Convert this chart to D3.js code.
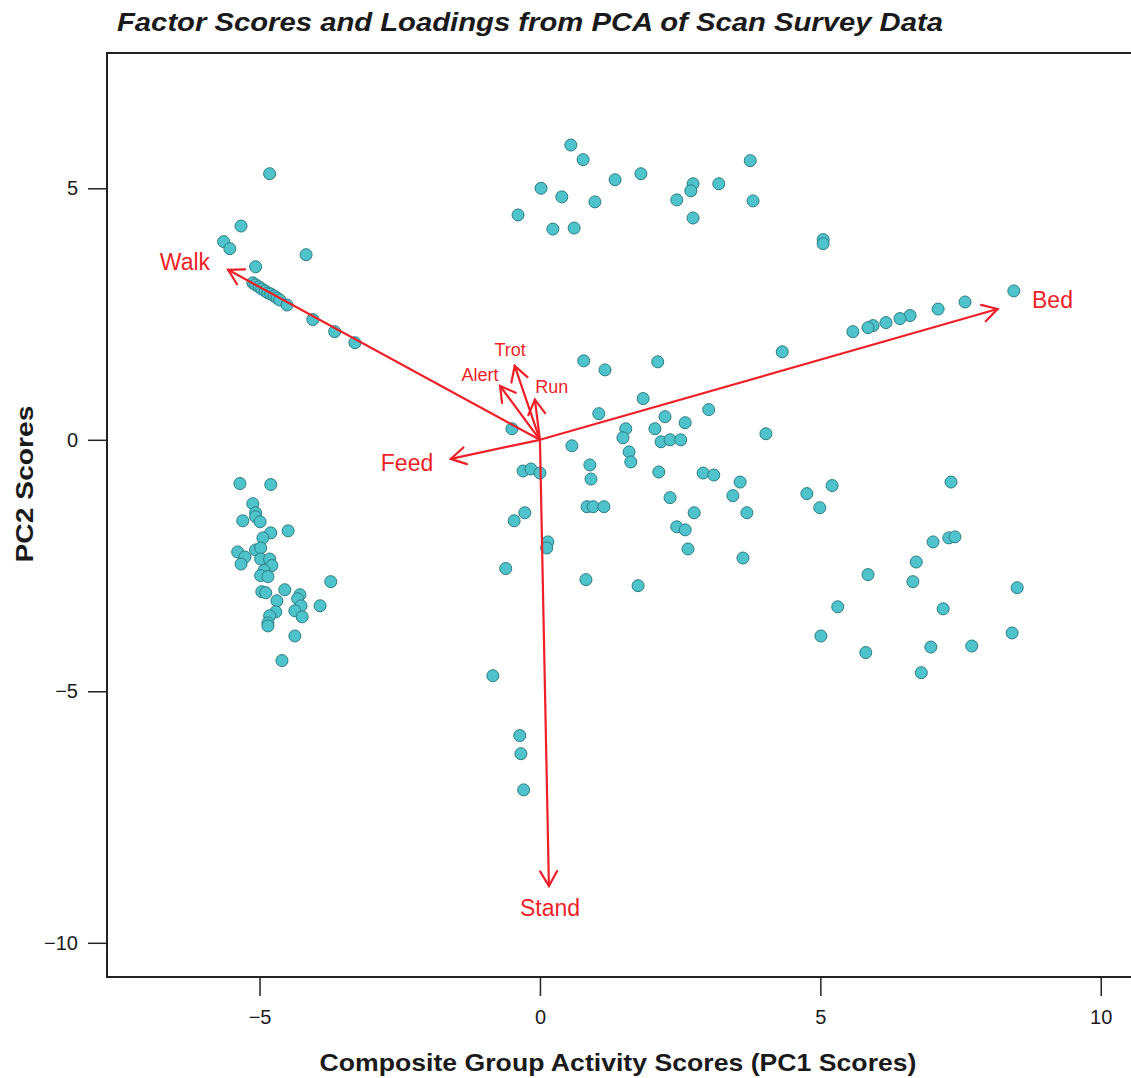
<!DOCTYPE html>
<html>
<head>
<meta charset="utf-8">
<script src="https://cdn.jsdelivr.net/npm/d3@7"></script>
<style>
  html, body { margin: 0; padding: 0; background: #ffffff; }
  svg { display: block; font-family: "Liberation Sans", Arial, Helvetica, sans-serif; }
</style>
</head>
<body>
<svg id="chart" width="1131" height="1078"></svg>
<script>
// Factor scores (PC1, PC2) for each scan survey group
const pc1Scores = [
  // walking-dominated groups
  -4.82, -5.33, -5.64, -5.53, -4.17, -5.07, -5.12, -5.07, -5.01, -4.96,
  -4.90, -4.85, -4.80, -4.74, -4.69, -4.64, -4.51, -4.05, -3.66, -3.30,
  // feeding / standing mix, left
  -5.35, -4.80, -5.12, -5.07, -5.07, -4.99, -5.30, -4.80, -4.49, -4.94,
  -5.39, -5.26, -5.33, -5.07, -4.98, -4.98, -4.82, -4.78, -4.92, -4.98,
  -4.85, -4.96, -4.89, -4.55, -4.69, -4.71, -4.82, -4.85, -4.85, -4.28,
  -4.32, -4.26, -4.37, -4.24, -3.92, -3.73, -4.37, -4.60,
  // upper middle
  0.55, 0.77, 0.02, 0.39, 1.34, 1.80, 0.98, -0.39, 0.23, 0.61,
  2.44, 2.73, 2.69, 3.19, 3.75, 3.80, 2.73,
  // bedded groups
  5.05, 5.05, 8.45, 7.58, 7.10, 6.60, 6.42, 6.17, 5.94, 5.85, 5.58, 4.32,
  // centre
  0.78, 1.16, 2.10, 1.84, 3.01, 1.05, -0.50, 1.53, 1.48, 2.05,
  2.23, 2.59, 2.16, 2.32, 2.51, 4.03, 0.57, 1.59, 1.62, 0.89,
  0.91, -0.30, -0.16, 0.00, 2.12, 2.91, 3.10, 3.57, 3.44, 4.76,
  5.21, 4.99, 2.32, 3.69, 2.75, 0.84, 0.95, 1.14, -0.27, -0.46,
  2.44, 2.59, 0.14, 0.12, 2.64, 3.62, -0.61, 0.82, 1.75,
  // lower right
  7.33, 7.01, 7.29, 7.40, 6.71, 5.85, 6.65, 8.51, 5.31, 7.19,
  5.01, 8.42, 5.81, 6.97, 7.70, 6.80,
  // standing groups
  -0.84, -0.36, -0.34, -0.29
];

const pc2Scores = [
  5.29, 4.25, 3.94, 3.80, 3.68, 3.44, 3.12, 3.08, 3.04, 3.00,
  2.96, 2.92, 2.90, 2.86, 2.82, 2.78, 2.68, 2.39, 2.15, 1.93,
  -0.87, -0.89, -1.27, -1.45, -1.53, -1.63, -1.61, -1.85, -1.81, -1.95,
  -2.23, -2.33, -2.47, -2.19, -2.15, -2.37, -2.37, -2.50, -2.60, -2.70,
  -2.72, -3.02, -3.04, -2.98, -3.20, -3.42, -3.50, -3.64, -3.70, -3.08,
  -3.16, -3.30, -3.40, -3.52, -3.30, -2.82, -3.90, -4.39,
  5.86, 5.57, 5.00, 4.83, 5.17, 5.29, 4.73, 4.47, 4.19, 4.21,
  4.77, 5.09, 4.95, 5.09, 5.55, 4.75, 4.41,
  3.98, 3.90, 2.96, 2.74, 2.60, 2.47, 2.41, 2.33, 2.27, 2.23, 2.15, 1.75,
  1.57, 1.39, 1.55, 0.82, 0.60, 0.52, 0.22, 0.22, 0.04, 0.22,
  0.46, 0.34, -0.04, 0.00, 0.00, 0.12, -0.12, -0.24, -0.44, -0.50,
  -0.78, -0.62, -0.58, -0.66, -0.64, -0.66, -0.70, -0.84, -1.11, -1.07,
  -0.91, -1.35, -1.15, -1.45, -1.45, -1.33, -1.33, -1.33, -1.45, -1.61,
  -1.73, -1.79, -2.03, -2.15, -2.17, -2.35, -2.56, -2.78, -2.90,
  -0.84, -2.03, -1.95, -1.93, -2.43, -2.68, -2.82, -2.94, -3.32, -3.36,
  -3.90, -3.84, -4.23, -4.12, -4.10, -4.63,
  -4.69, -5.88, -6.24, -6.96
];

// Activity loadings (scaled for display) and where each name sits
const activities = ["Walk", "Bed", "Feed", "Stand", "Trot", "Alert", "Run"];
const loadPC1 = [-5.56, 8.16, -1.59, 0.16, -0.45, -0.71, -0.09];
const loadPC2 = [3.38, 2.60, -0.38, -8.87, 1.47, 1.07, 0.80];
const labelPC1 = [-6.33, 9.14, -2.37, 0.18, -0.53, -1.07, 0.21];
const labelPC2 = [3.54, 2.78, -0.46, -9.30, 1.79, 1.29, 1.05];
const minorActivities = ["Trot", "Alert", "Run"];

const xTicks = [-5, 0, 5, 10];
const yTicks = [-10, -5, 0, 5];

const titleText = "Factor Scores and Loadings from PCA of Scan Survey Data";
const xTitle = "Composite Group Activity Scores (PC1 Scores)";
const yTitle = "PC2 Scores";

const svg = d3.select("#chart");
const plot = { left: 107, top: 53, right: 1140, bottom: 977 };

const x = d3.scaleLinear().domain([-7.72, 10.7]).range([plot.left, plot.right]);
const y = d3.scaleLinear().domain([-10.68, 7.69]).range([plot.bottom, plot.top]);

const axisColor = "#222222";
const red = "#ef1f28";

// Title
svg.append("text")
  .attr("x", 117).attr("y", 31)
  .attr("font-size", 25).attr("font-weight", "bold").attr("font-style", "italic")
  .attr("textLength", 826).attr("lengthAdjust", "spacingAndGlyphs")
  .attr("fill", "#1a1a1a")
  .text(titleText);

// Axes
const xAxis = d3.axisBottom(x).tickValues(xTicks).tickSize(19).tickPadding(14)
  .tickFormat(d => d < 0 ? "\u2212" + Math.abs(d) : d);
const yAxis = d3.axisLeft(y).tickValues(yTicks).tickSize(19).tickPadding(10)
  .tickFormat(d => d < 0 ? "\u2212" + Math.abs(d) : d);

const gx = svg.append("g").attr("transform", `translate(0,${plot.bottom})`).call(xAxis);
const gy = svg.append("g").attr("transform", `translate(${plot.left},0)`).call(yAxis);
[gx, gy].forEach(g => {
  g.select(".domain").remove();
  g.selectAll(".tick line").attr("stroke", axisColor).attr("stroke-width", 1.5);
  g.selectAll(".tick text").attr("fill", "#1a1a1a").attr("font-size", 20)
    .attr("font-family", "Liberation Sans, Arial, sans-serif");
});

// Plot frame
svg.append("rect")
  .attr("x", plot.left).attr("y", plot.top)
  .attr("width", plot.right - plot.left).attr("height", plot.bottom - plot.top)
  .attr("fill", "none").attr("stroke", axisColor).attr("stroke-width", 2);

// Axis titles
svg.append("text")
  .attr("x", 618).attr("y", 1071)
  .attr("text-anchor", "middle")
  .attr("font-size", 24).attr("font-weight", "bold").attr("fill", "#1a1a1a")
  .attr("textLength", 597).attr("lengthAdjust", "spacingAndGlyphs")
  .text(xTitle);

svg.append("text")
  .attr("transform", "translate(33,484) rotate(-90)")
  .attr("text-anchor", "middle")
  .attr("font-size", 24).attr("font-weight", "bold").attr("fill", "#1a1a1a")
  .attr("textLength", 157).attr("lengthAdjust", "spacingAndGlyphs")
  .text(yTitle);

// Score points
const scores = pc1Scores.map((v, i) => ({ pc1: v, pc2: pc2Scores[i] }));
svg.append("g").selectAll("circle")
  .data(scores).join("circle")
  .attr("cx", d => x(d.pc1))
  .attr("cy", d => y(d.pc2))
  .attr("r", 6)
  .attr("fill", "#4fc3cb")
  .attr("stroke", "#2b7c84")
  .attr("stroke-width", 1);

// Loading arrows
const loadings = activities.map((name, i) => ({
  name, pc1: loadPC1[i], pc2: loadPC2[i], lx: labelPC1[i], ly: labelPC2[i]
}));

const arrows = svg.append("g")
  .attr("stroke", red).attr("stroke-width", 2.2).attr("fill", "none")
  .attr("stroke-linecap", "round");

const headLen = 17, headAngle = Math.PI / 6;
loadings.forEach(d => {
  const x0 = x(0), y0 = y(0), x1 = x(d.pc1), y1 = y(d.pc2);
  arrows.append("line").attr("x1", x0).attr("y1", y0).attr("x2", x1).attr("y2", y1);
  const ang = Math.atan2(y1 - y0, x1 - x0);
  const p = [ang + Math.PI - headAngle, ang + Math.PI + headAngle]
    .map(a => [x1 + headLen * Math.cos(a), y1 + headLen * Math.sin(a)]);
  arrows.append("path").attr("d", `M${p[0][0]},${p[0][1]}L${x1},${y1}L${p[1][0]},${p[1][1]}`);
});

// Loading names
svg.append("g").selectAll("text")
  .data(loadings).join("text")
  .attr("x", d => x(d.lx))
  .attr("y", d => y(d.ly))
  .attr("text-anchor", "middle")
  .attr("dominant-baseline", "central")
  .attr("font-size", d => minorActivities.includes(d.name) ? 18 : 23)
  .attr("fill", red)
  .text(d => d.name);
</script>
</body>
</html>
